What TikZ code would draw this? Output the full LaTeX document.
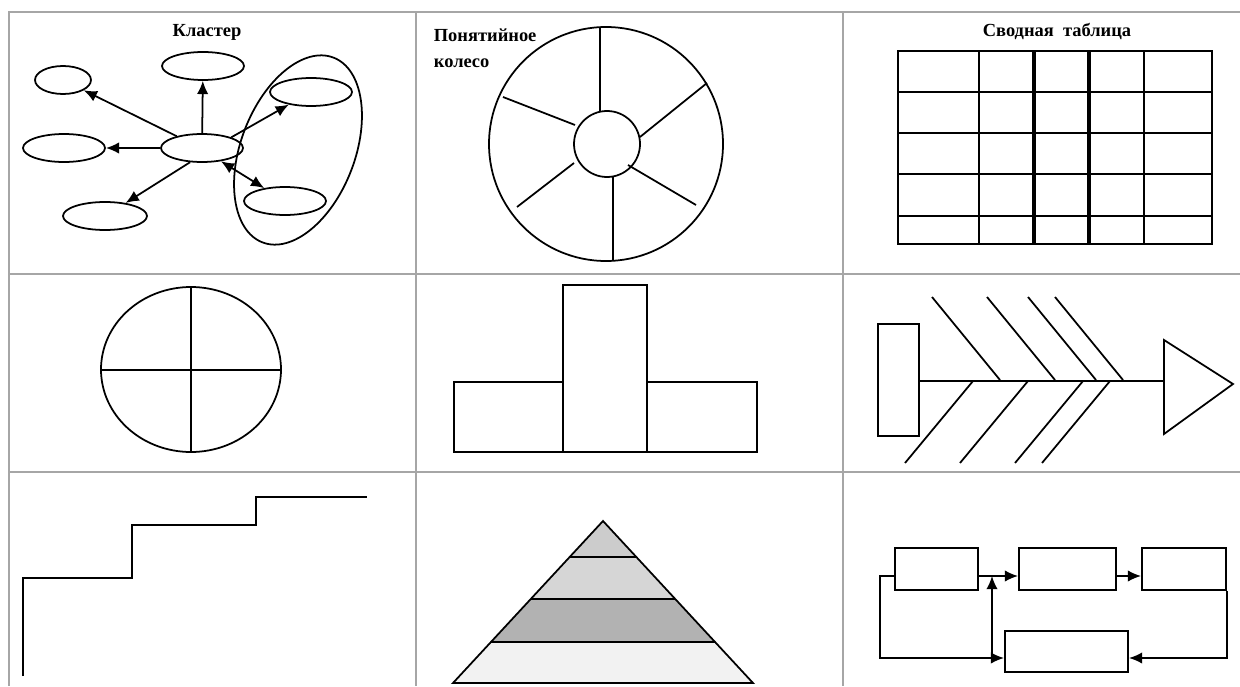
\documentclass[tikz,border=0pt]{standalone}
\usepackage{fontspec}
\setmainfont{Liberation Serif}
\usetikzlibrary{shapes.geometric, arrows.meta}

\tikzset{
  frame/.style={gray!70, line width=1.2pt},
  heading/.style={font=\bfseries\fontsize{10.5}{14.7}\selectfont, inner sep=0pt},
  bubble/.style={draw, ellipse, line width=1pt, minimum width=1.64cm, minimum height=0.56cm, inner sep=0pt},
  flowbox/.style={draw, rectangle, line width=1.1pt, minimum height=0.84cm, inner sep=0pt}
}

\begin{document}
\begin{tikzpicture}[x=0.02cm, y=-0.02cm, line width=1pt, >={Latex[length=7.5pt,width=6.5pt]}]
    \useasboundingbox (0,0) rectangle (1240,686);

    % cell borders
    \draw[frame] (9,686) -- (9,12) -- (1240,12);
    \foreach \x in {416,843}
        \draw[frame] (\x,12) -- (\x,686);
    \foreach \y in {274,472}
        \draw[frame] (9,\y) -- (1240,\y);

    % cluster
    \node[heading] (clusterTitle) at (207,32) {Кластер};
    \node[bubble] (hub) at (202,148) {};
    \node[bubble] (up) at (203,66) {};
    \node[bubble, minimum width=1.12cm] (upLeft) at (63,80) {};
    \node[bubble] (left) at (64,148) {};
    \node[bubble, minimum width=1.68cm] (downLeft) at (105,216) {};
    \node[bubble] (upRight) at (311,92) {};
    \node[bubble] (downRight) at (285,201) {};
    \node[draw, ellipse, rotate=69, minimum width=3.96cm, minimum height=2.28cm] (group) at (298,150) {};
    \draw[->] (hub) -- (up);
    \draw[->] (hub.155) -- (upLeft);
    \draw[->] (hub) -- (left);
    \draw[->] (hub.230) -- (downLeft);
    \draw[->] (hub.20) -- (upRight);
    \draw[<->] (hub.-35) -- (downRight);

    % wheel
    \node[heading, align=left, anchor=north west] (wheelTitle) at (433,28) {Понятийное\\колесо};
    \draw (606,144) circle (117);
    \draw (607,144) circle (33);
    \foreach \xa/\ya/\xb/\yb in {600/28/600/111, 707/83/640/137, 503/97/575/125,
                                 517/207/574/163, 613/177/613/260, 628/165/696/205}
        \draw (\xa,\ya) -- (\xb,\yb);

    % summary table
    \node[heading] (tableTitle) at (1057,32) {Сводная\ \ таблица};
    \foreach \y/\w in {92/1.5pt, 133/1pt, 174/1.5pt, 216/1pt}
        \draw[line width=\w] (898,\y) -- (1212,\y);
    \foreach \x/\w in {979/1pt, 1034/2.6pt, 1089/2.6pt, 1144/1pt}
        \draw[line width=\w] (\x,51) -- (\x,244);
    \draw[line width=1.4pt] (898,51) rectangle (1212,244);

    % circle with cross
    \draw (191,369.5) ellipse [x radius=90, y radius=82.5];
    \draw[line width=0.8pt] (191,287) -- (191,452);
    \draw[line width=0.8pt] (101,370) -- (281,370);

    % T shape
    \draw (454,382) rectangle (563,452);
    \draw (563,285) rectangle (647,452);
    \draw (647,382) rectangle (757,452);

    % fishbone
    \draw (878,324) rectangle (919,436);
    \draw (919,381) -- (1164,381);
    \draw (1164,340) -- (1233,384) -- (1164,434) -- cycle;
    \foreach \x in {932,987,1028,1055}
        \draw (\x,297) -- ++(68,83);
    \foreach \x in {973,1028,1083,1110}
        \draw (\x,381) -- ++(-68,82);

    % stairs
    \draw[line width=1.3pt] (23,676) |- (132,578) |- (256,525) |- (367,497);

    % pyramid
    \begin{scope}
        \clip (603,521) -- (453,683) -- (753,683) -- cycle;
        \foreach \ya/\yb/\tone in {521/557/gray!40, 557/599/gray!32, 599/642/gray!60, 642/684/gray!10}
            \fill[\tone] (440,\ya) rectangle (770,\yb);
        \foreach \y in {557,599,642}
            \draw[line width=1.2pt] (440,\y) -- (770,\y);
    \end{scope}
    \draw (603,521) -- (453,683) -- (753,683) -- cycle;

    % flow
    \node[flowbox, minimum width=1.66cm] (stepA) at (936.5,569) {};
    \node[flowbox, minimum width=1.94cm] (stepB) at (1067.5,569) {};
    \node[flowbox, minimum width=1.68cm] (stepC) at (1184,569) {};
    \node[flowbox, minimum width=2.46cm, minimum height=0.82cm] (stepD) at (1066.5,651.5) {};
    \coordinate (joinTop) at (992,576);
    \coordinate (joinBottom) at (992,658);
    \draw[->] ([yshift=-0.14cm]stepA.east) -- ([yshift=-0.14cm]stepB.west);
    \draw[->] ([yshift=-0.14cm]stepB.east) -- ([yshift=-0.14cm]stepC.west);
    \draw[->] ([yshift=-0.14cm]stepA.west) -- ++(-14,0) |- ([yshift=-0.13cm]stepD.west);
    \draw[->] (stepC.south east) |- ([yshift=-0.13cm]stepD.east);
    \draw[->] (joinBottom) -- (joinTop);
\end{tikzpicture}
\end{document}
